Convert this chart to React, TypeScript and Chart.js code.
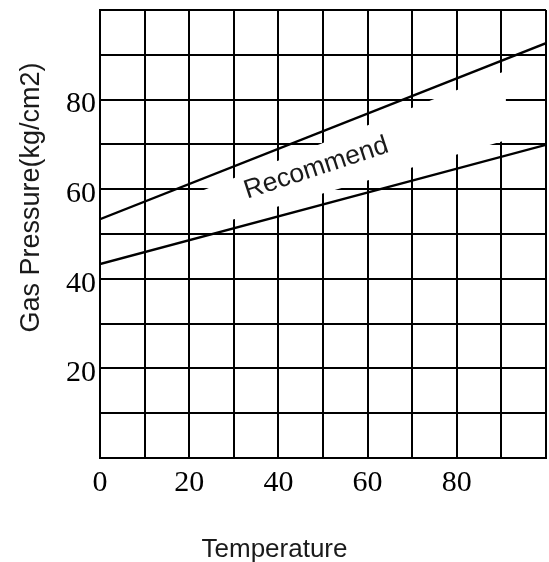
import React, { useEffect, useRef } from "react";
import { Chart, registerables } from "chart.js";

Chart.register(...registerables);

// ---- data ----
const temperatures = [0, 100];
const upperPressure = [53.3, 92.6];
const lowerPressure = [43.3, 69.9];
const xTickLabels = [0, 20, 40, 60, 80];
const yTickLabels = [20, 40, 60, 80];
const xAxisTitle = "Temperature";
const yAxisTitle = "Gas Pressure(kg/cm2)";
const bandLabel = "Recommend";

const SERIF = '"Liberation Serif", "Times New Roman", serif';
const SANS = '"Liberation Sans", Arial, Helvetica, sans-serif';

type Pt = { x: number; y: number };

function valueAt(pts: Pt[], x: number): number {
  for (let i = 0; i < pts.length - 1; i++) {
    const a = pts[i];
    const b = pts[i + 1];
    if (x >= a.x && x <= b.x) {
      return a.y + ((b.y - a.y) * (x - a.x)) / (b.x - a.x);
    }
  }
  return pts[pts.length - 1].y;
}

const bandPlugin = {
  id: "recommendBand",
  beforeDatasetsDraw(chart: any, _args: any, opts: any) {
    const { ctx } = chart;
    const xs = chart.scales.x;
    const ys = chart.scales.y;
    const up = chart.data.datasets[0].data as Pt[];
    const lo = chart.data.datasets[1].data as Pt[];
    const { from, to, topGap, bottomGapStart, bottomGapEnd } = opts;
    ctx.save();
    ctx.fillStyle = "#ffffff";
    ctx.beginPath();
    ctx.moveTo(xs.getPixelForValue(from), ys.getPixelForValue(valueAt(up, from) - topGap));
    ctx.lineTo(xs.getPixelForValue(to), ys.getPixelForValue(valueAt(up, to) - topGap));
    ctx.lineTo(xs.getPixelForValue(to), ys.getPixelForValue(valueAt(lo, to) + bottomGapEnd));
    ctx.lineTo(xs.getPixelForValue(from), ys.getPixelForValue(valueAt(lo, from) + bottomGapStart));
    ctx.closePath();
    ctx.fill();
    ctx.restore();
  },
  afterDatasetsDraw(chart: any, _args: any, opts: any) {
    const { ctx } = chart;
    const xs = chart.scales.x;
    const ys = chart.scales.y;
    const up = chart.data.datasets[0].data as Pt[];
    const lo = chart.data.datasets[1].data as Pt[];
    const lx = opts.labelAt;
    const midVal = (valueAt(up, lx) + valueAt(lo, lx)) / 2 + opts.labelShift;
    const px = xs.getPixelForValue(lx);
    const py = ys.getPixelForValue(midVal);
    const a0 = temperatures[0];
    const a1 = temperatures[temperatures.length - 1];
    const slope = (pts: Pt[]) =>
      Math.atan2(
        ys.getPixelForValue(valueAt(pts, a1)) - ys.getPixelForValue(valueAt(pts, a0)),
        xs.getPixelForValue(a1) - xs.getPixelForValue(a0)
      );
    const ang = (slope(up) + slope(lo)) / 2;
    ctx.save();
    ctx.translate(px, py);
    ctx.rotate(ang);
    ctx.font = `26.5px ${SANS}`;
    ctx.fillStyle = "#1a1a1a";
    ctx.textAlign = "center";
    ctx.textBaseline = "middle";
    ctx.fillText(bandLabel, 0, 0);
    ctx.restore();
  },
  afterDraw(chart: any, _args: any, opts: any) {
    const { ctx } = chart;
    ctx.save();
    ctx.fillStyle = "#1a1a1a";
    ctx.textAlign = "center";
    ctx.textBaseline = "alphabetic";
    ctx.font = `26px ${SANS}`;
    ctx.fillText(xAxisTitle, opts.xTitleX, opts.xTitleY);
    ctx.translate(opts.yTitleX, opts.yTitleY);
    ctx.rotate(-Math.PI / 2);
    ctx.font = `27px ${SANS}`;
    ctx.fillText(yAxisTitle, 0, 0);
    ctx.restore();
  },
};

export default function App() {
  const canvasRef = useRef<HTMLCanvasElement | null>(null);

  useEffect(() => {
    const canvas = canvasRef.current;
    if (!canvas) return;
    const toPts = (ys: number[]) => temperatures.map((t, i) => ({ x: t, y: ys[i] }));
    const chart = new Chart(canvas, {
      type: "line",
      data: {
        datasets: [
          {
            label: "upper",
            data: toPts(upperPressure),
            borderColor: "#000000",
            borderWidth: 2.4,
            pointRadius: 0,
            fill: false,
            tension: 0,
          },
          {
            label: "lower",
            data: toPts(lowerPressure),
            borderColor: "#000000",
            borderWidth: 2.4,
            pointRadius: 0,
            fill: false,
            tension: 0,
          },
        ],
      },
      options: {
        animation: false,
        responsive: false,
        devicePixelRatio: 1,
        layout: { padding: { top: 10, right: 3, left: 0, bottom: 0 } },
        plugins: {
          legend: { display: false },
          tooltip: { enabled: false },
          recommendBand: {
            from: 21,
            to: 91,
            topGap: 2.6,
            bottomGapStart: 1.8,
            bottomGapEnd: 3.4,
            labelAt: 48.5,
            labelShift: 0.4,
            xTitleX: 274.5,
            xTitleY: 557,
            yTitleX: 39,
            yTitleY: 197.5,
          },
        } as any,
        scales: {
          x: {
            type: "linear",
            min: 0,
            max: 100,
            afterFit: (s: any) => {
              s.height = 104;
              s.paddingLeft = 0;
              s.paddingRight = 0;
            },
            afterBuildTicks: (s: any) => {
              s.ticks = [];
              for (let v = 0; v <= 100; v += 10) s.ticks.push({ value: v });
            },
            ticks: {
              autoSkip: false,
              maxRotation: 0,
              padding: 7,
              color: "#000000",
              font: { family: SERIF, size: 30 },
              callback: (v: any) => (xTickLabels.includes(Number(v)) ? String(v) : ""),
            },
            grid: { color: "#000000", lineWidth: 2, drawTicks: false },
            border: { display: true, color: "#000000", width: 2 },
          },
          y: {
            type: "linear",
            min: 0,
            max: 100,
            afterFit: (s: any) => {
              s.width = 100;
              s.paddingTop = 0;
              s.paddingBottom = 0;
            },
            afterBuildTicks: (s: any) => {
              s.ticks = [];
              for (let v = 0; v <= 100; v += 10) s.ticks.push({ value: v });
            },
            ticks: {
              autoSkip: false,
              padding: 4,
              labelOffset: 5,
              color: "#000000",
              font: { family: SERIF, size: 30 },
              callback: (v: any) => (yTickLabels.includes(Number(v)) ? String(v) : ""),
            },
            grid: { color: "#000000", lineWidth: 2, drawTicks: false },
            border: { display: true, color: "#000000", width: 2 },
          },
        },
      },
      plugins: [bandPlugin as any],
    });
    return () => chart.destroy();
  }, []);

  return (
    <div
      style={{
        position: "fixed",
        left: 0,
        top: 0,
        width: 549,
        height: 562,
        background: "#ffffff",
      }}
    >
      <canvas ref={canvasRef} width={549} height={562} />
    </div>
  );
}
